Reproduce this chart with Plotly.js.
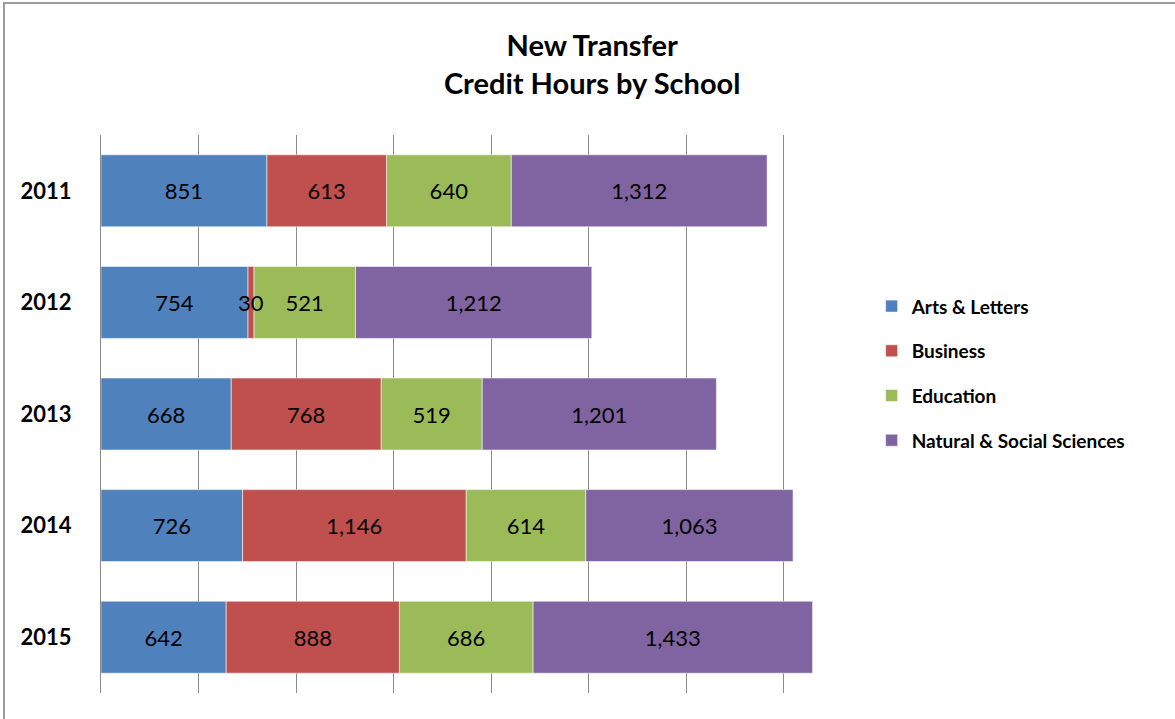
<!DOCTYPE html>
<html>
<head>
<meta charset="utf-8">
<script src="https://cdn.plot.ly/plotly-3.0.1.min.js"></script>
<style>
  html, body { margin: 0; padding: 0; background: #fff; }
  #chart { position: absolute; left: 0; top: 0; width: 1175px; height: 719px; }
  #frame { position: absolute; left: 3px; top: 2px; width: 1172px; height: 717px;
           border-top: 2px solid #9a9a9a; border-left: 2px solid #9a9a9a; pointer-events: none; }
</style>
</head>
<body>
<div id="chart"></div>
<div id="frame"></div>
<script>
const years = ['2011', '2012', '2013', '2014', '2015'];
const artsLetters = [851, 754, 668, 726, 642];
const business = [613, 30, 768, 1146, 888];
const education = [640, 521, 519, 614, 686];
const naturalSocial = [1312, 1212, 1201, 1063, 1433];

const seriesNames = ['Arts & Letters', 'Business', 'Education', 'Natural & Social Sciences'];
const seriesValues = [artsLetters, business, education, naturalSocial];
const seriesColors = ['#4F81BD', '#C0504D', '#9BBB59', '#8064A2'];

const FONT = 'Lato, "Open Sans", sans-serif';

// stacking bases (cumulative sums of the preceding series)
const bases = seriesValues.map((vals, i) =>
  vals.map((_, j) => seriesValues.slice(0, i).reduce((s, arr) => s + arr[j], 0)));

const makeTrace = (i) => ({
  type: 'bar',
  orientation: 'h',
  name: seriesNames[i],
  legendrank: i + 1,
  legendgroup: 'g' + i,
  y: years,
  x: seriesValues[i],
  base: bases[i],
  marker: { color: seriesColors[i], line: { color: 'rgba(255,255,255,0.55)', width: 1 } },
  texttemplate: '%{x:,}',
  textposition: 'inside',
  insidetextanchor: 'middle',
  textangle: 0,
  textfont: { family: FONT, size: 22, color: '#000000' },
  hoverinfo: 'skip'
});

// Business drawn last so its small labels sit on top of neighbouring segments
const drawOrder = [0, 2, 3, 1];
const traces = drawOrder.map(makeTrace);

const layout = {
  width: 1175,
  height: 719,
  barmode: 'overlay',
  bargap: 0.355,
  paper_bgcolor: '#ffffff',
  plot_bgcolor: '#ffffff',
  margin: { l: 101, r: 294, t: 135, b: 26 },
  font: { family: FONT, color: '#000000' },
  uniformtext: { mode: 'show', minsize: 22 },
  title: {
    text: 'New Transfer<br>Credit Hours by School',
    font: { family: FONT, size: 29, weight: 'bold', color: '#000000' },
    xref: 'container', x: 0.504, xanchor: 'center',
    yref: 'container', y: 0.922, yanchor: 'middle'
  },
  xaxis: {
    range: [0, 4000],
    dtick: 500,
    tick0: 0,
    showgrid: true,
    gridcolor: '#8a8a8a',
    gridwidth: 1,
    zeroline: false,
    showticklabels: false,
    showline: false,
    ticks: '',
    fixedrange: true
  },
  yaxis: {
    type: 'category',
    autorange: 'reversed',
    showline: true,
    linecolor: '#8a8a8a',
    linewidth: 1,
    showgrid: false,
    ticks: '',
    ticklabelstandoff: 24,
    tickfont: { family: FONT, size: 22, weight: 'bold', color: '#000000' },
    fixedrange: true
  },
  showlegend: true,
  legend: {
    x: 0.988, xanchor: 'left',
    y: 0.573, yanchor: 'middle',
    traceorder: 'grouped',
    tracegroupgap: 17,
    font: { family: FONT, size: 19, weight: 'bold', color: '#000000' },
    bgcolor: 'rgba(0,0,0,0)',
    itemclick: false, itemdoubleclick: false
  }
};

Plotly.newPlot('chart', traces, layout, { displayModeBar: false, staticPlot: true });
</script>
</body>
</html>
